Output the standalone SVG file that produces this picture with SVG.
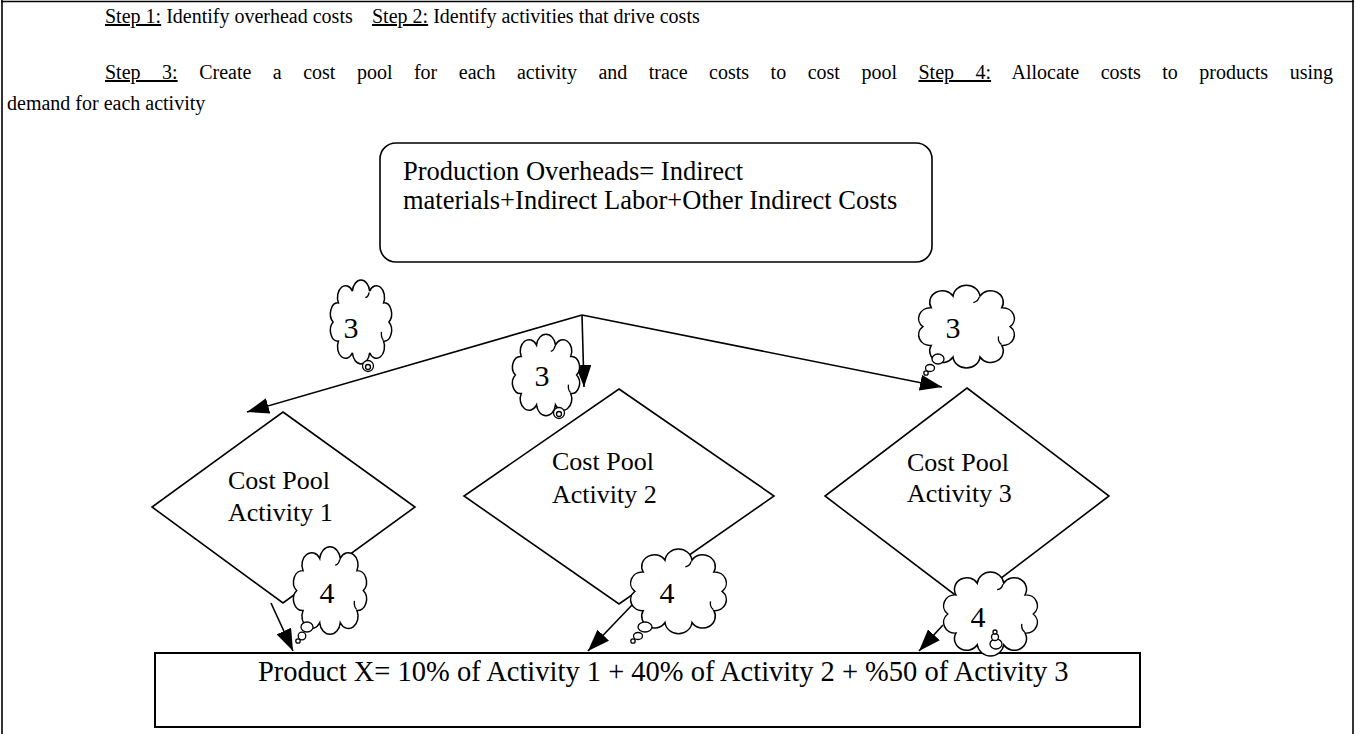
<svg xmlns="http://www.w3.org/2000/svg" width="1356" height="734" viewBox="0 0 1356 734">
  <style>
    .txt { font-family: "Liberation Serif", "Times New Roman", serif; fill: #000; }
    .head { font-size: 20px; }
    .body { font-size: 26px; }
    .box { font-size: 26.5px; }
    .big { font-size: 28.5px; }
    .num { font-size: 30px; }
    .u { text-decoration: underline; }
    .shape { fill: #fff; stroke: #000; stroke-width: 1.6; }
    .cloud { fill: #fff; stroke: #000; stroke-width: 1.5; vector-effect: non-scaling-stroke; }
    .crease { fill: none; stroke: #000; stroke-width: 1.3; vector-effect: non-scaling-stroke; }
    .bub { fill: #fff; stroke: #000; stroke-width: 1.3; }
    .conn { fill: none; stroke: #000; stroke-width: 1.6; }
  </style>
  <defs>
    <marker id="arrow" markerUnits="userSpaceOnUse" markerWidth="24" markerHeight="16" refX="22" refY="8" orient="auto">
      <path d="M0,0 L22,8 L0,16 Z" fill="#000"/>
    </marker>
    <!-- scalloped cloud outline in a 100 x 80 box, with two inner creases -->
    <g id="cloudShape">
      <path class="cloud" d="M95,40 A12,12 0 0 1 86.4,61.2 A13,13 0 0 1 63.9,74.2 A14,14 0 0 1 36.1,74.2 A13,13 0 0 1 13.6,61.2 A12,12 0 0 1 5,40 A12,12 0 0 1 13.6,18.8 A13,13 0 0 1 36.1,5.8 A14,14 0 0 1 63.9,5.8 A13,13 0 0 1 86.4,18.8 A12,12 0 0 1 95,40 Z"/>
      <path class="crease" d="M86,60 Q82,57 83,51 M63,7 Q62,12 57,13"/>
    </g>
  </defs>

  <rect width="1356" height="734" fill="#fff"/>

  <!-- page frame -->
  <g id="frame" class="conn">
    <line x1="2" y1="0" x2="2" y2="734"/>
    <line x1="1" y1="1.5" x2="1354" y2="1.5"/>
    <line x1="1353" y1="0" x2="1353" y2="734"/>
  </g>

  <!-- step descriptions -->
  <g id="steps" class="txt head">
    <text x="105" y="23"><tspan class="u">Step 1:</tspan> Identify overhead costs</text>
    <text x="372" y="23"><tspan class="u">Step 2:</tspan> Identify activities that drive costs</text>
    <text x="105" y="79" word-spacing="16.5"><tspan class="u">Step 3:</tspan> Create a cost pool for each activity and trace costs to cost pool <tspan class="u">Step 4:</tspan> Allocate costs to products using</text>
    <text x="7" y="110">demand for each activity</text>
  </g>

  <!-- connectors -->
  <g id="connectors" class="conn">
    <line x1="582" y1="315" x2="247" y2="412" marker-end="url(#arrow)"/>
    <line x1="582" y1="315" x2="584" y2="387" marker-end="url(#arrow)"/>
    <line x1="582" y1="315" x2="942" y2="387" marker-end="url(#arrow)"/>
    <line x1="271" y1="603" x2="293" y2="651" marker-end="url(#arrow)"/>
    <line x1="633" y1="604" x2="588" y2="651" marker-end="url(#arrow)"/>
    <line x1="943" y1="625" x2="919" y2="651" marker-end="url(#arrow)"/>
  </g>

  <g id="overheads">
    <rect class="shape" x="380" y="143" width="552" height="119" rx="16"/>
    <text class="txt box" x="403" y="180">Production Overheads= Indirect</text>
    <text class="txt box" x="403" y="209">materials+Indirect Labor+Other Indirect Costs</text>
  </g>

  <g id="pool1">
    <polygon class="shape" points="283,412 415,507 283,603 152,507"/>
    <text class="txt body" x="228" y="489">Cost Pool</text>
    <text class="txt body" x="228" y="521">Activity 1</text>
  </g>

  <g id="pool2">
    <polygon class="shape" points="619,389 774,496 619,604 464,496"/>
    <text class="txt body" x="552" y="470">Cost Pool</text>
    <text class="txt body" x="552" y="503">Activity 2</text>
  </g>

  <g id="pool3">
    <polygon class="shape" points="967,388 1109,496 967,604 825,496"/>
    <text class="txt body" x="907" y="471">Cost Pool</text>
    <text class="txt body" x="907" y="502">Activity 3</text>
  </g>

  <g id="product">
    <rect x="155" y="653" width="985" height="74" fill="#fff" stroke="#000" stroke-width="2"/>
    <text class="txt big" x="258" y="681">Product X= 10% of Activity 1 + 40% of Activity 2 + %50 of Activity 3</text>
  </g>

  <!-- step 3 callouts -->
  <g id="cloud3a">
    <use href="#cloudShape" transform="translate(330,286) scale(0.62,0.9)"/>
    <circle class="bub" cx="368" cy="366" r="5.5"/>
    <circle class="bub" cx="368" cy="367" r="2.5"/>
    <text class="txt num" x="351" y="338" text-anchor="middle">3</text>
  </g>
  <g id="cloud3b">
    <use href="#cloudShape" transform="translate(512,340) scale(0.68,0.875)"/>
    <circle class="bub" cx="559" cy="413" r="5.5"/>
    <circle class="bub" cx="559" cy="414" r="2.5"/>
    <text class="txt num" x="542" y="386" text-anchor="middle">3</text>
  </g>
  <g id="cloud3c">
    <use href="#cloudShape" transform="translate(918,291) scale(0.97,0.89)"/>
    <ellipse class="bub" cx="938" cy="359" rx="6" ry="5"/>
    <ellipse class="bub" cx="930" cy="368" rx="4.5" ry="3.5"/>
    <circle class="bub" cx="926" cy="373" r="2.2"/>
    <text class="txt num" x="953" y="338" text-anchor="middle">3</text>
  </g>

  <!-- step 4 callouts -->
  <g id="cloud4a">
    <use href="#cloudShape" transform="translate(293,553) scale(0.74,0.94)"/>
    <ellipse class="bub" cx="307" cy="627" rx="6" ry="5"/>
    <circle class="bub" cx="302" cy="636" r="3.8"/>
    <circle class="bub" cx="298" cy="641" r="2.2"/>
    <text class="txt num" x="327" y="603" text-anchor="middle">4</text>
  </g>
  <g id="cloud4b">
    <use href="#cloudShape" transform="translate(630,555) scale(0.97,0.91)"/>
    <ellipse class="bub" cx="645" cy="627" rx="7" ry="5"/>
    <ellipse class="bub" cx="638" cy="636" rx="4.5" ry="3.5"/>
    <circle class="bub" cx="633" cy="641" r="2.2"/>
    <text class="txt num" x="667" y="603" text-anchor="middle">4</text>
  </g>
  <g id="cloud4c">
    <use href="#cloudShape" transform="translate(943,578) scale(0.95,0.9)"/>
    <ellipse class="bub" cx="996" cy="644" rx="6" ry="5"/>
    <circle class="bub" cx="995" cy="637" r="3.5"/>
    <circle class="bub" cx="995" cy="632" r="2"/>
    <text class="txt num" x="978" y="627" text-anchor="middle">4</text>
  </g>
</svg>
